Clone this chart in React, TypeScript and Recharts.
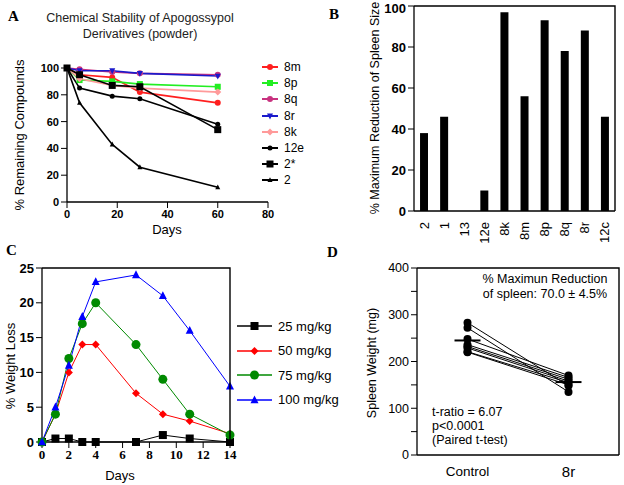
import React from 'react';
import { LineChart, Line, BarChart, Bar, ScatterChart, Scatter, XAxis, YAxis } from 'recharts';

const SANS = '"Liberation Sans", Arial, sans-serif';
const SERIF = '"Liberation Serif", "Times New Roman", serif';

// ---- A: chemical stability (powder) ----
const stabilityDays = [0, 5, 18, 29, 60];
const stab8m = [100, 95, 93, 82, 74];
const stab8p = [100, 91, 90, 88, 86];
const stab8q = [100, 99, 97, 96, 95];
const stab8r = [100, 98, 98, 96, 94];
const stab8k = [100, 92, 87, 85, 82];
const stab12e = [100, 85, 79, 77, 58];
const stab2star = [100, 95, 87, 86, 54];
const stab2 = [100, 74, 43, 26, 11];

// ---- B: spleen size reduction ----
const compounds = ['2', '1', '13', '12e', '8k', '8m', '8p', '8q', '8r', '12c'];
const spleenReduction = [38, 46, 0, 10, 97, 56, 93, 78, 88, 46];

// ---- C: weight loss ----
const lossDays = [0, 1, 2, 3, 4, 7, 9, 11, 14];
const loss25 = [0, 0.5, 0.5, 0, 0, 0, 1, 0.5, 0];
const loss50 = [0, 4, 10, 14, 14, 7, 4, 3, 1.2];
const loss75 = [0, 4, 12, 17, 20, 14, 9, 4, 1];
const loss100 = [0, 5, 11, 18, 23, 24, 21, 16, 8];

// ---- D: spleen weight, paired ----
const groups = ['Control', '8r'];
const controlWeights = [283, 272, 248, 236, 232, 229, 221, 220];
const treatedWeights = [148, 135, 170, 166, 162, 158, 155, 150];
const groupMeans = [245, 156];

type Shape = 'circle' | 'square' | 'triangle' | 'triangleDown' | 'diamond';

function Marker({ x, y, shape, color, size }: { x: number; y: number; shape: Shape; color: string; size: number }) {
  const h = size / 2;
  if (shape === 'circle') return <circle cx={x} cy={y} r={h} fill={color} />;
  if (shape === 'square') return <rect x={x - h} y={y - h} width={size} height={size} fill={color} />;
  if (shape === 'triangle')
    return <polygon points={`${x},${y - h * 1.15} ${x + h},${y + h * 0.8} ${x - h},${y + h * 0.8}`} fill={color} />;
  if (shape === 'triangleDown')
    return <polygon points={`${x},${y + h * 1.15} ${x + h},${y - h * 0.8} ${x - h},${y - h * 0.8}`} fill={color} />;
  return <polygon points={`${x},${y - h} ${x + h},${y} ${x},${y + h} ${x - h},${y}`} fill={color} />;
}

interface SeriesDef {
  name: string;
  values: number[];
  color: string;
  shape: Shape;
  size: number;
  width: number;
}

const stabilitySeries: SeriesDef[] = [
  { name: '8m', values: stab8m, color: '#ff1f1f', shape: 'circle', size: 6, width: 1.6 },
  { name: '8p', values: stab8p, color: '#22ee22', shape: 'square', size: 6, width: 1.6 },
  { name: '8q', values: stab8q, color: '#c8327f', shape: 'circle', size: 6, width: 1.6 },
  { name: '8r', values: stab8r, color: '#1a1acc', shape: 'triangleDown', size: 6, width: 1.6 },
  { name: '8k', values: stab8k, color: '#ff9a9a', shape: 'diamond', size: 7, width: 1.6 },
  { name: '12e', values: stab12e, color: '#000', shape: 'circle', size: 5, width: 1.6 },
  { name: '2*', values: stab2star, color: '#000', shape: 'square', size: 7, width: 1.6 },
  { name: '2', values: stab2, color: '#000', shape: 'triangle', size: 5, width: 1.6 },
];

const lossSeries: SeriesDef[] = [
  { name: '25 mg/kg', values: loss25, color: '#000', shape: 'square', size: 8, width: 1 },
  { name: '50 mg/kg', values: loss50, color: '#ff0000', shape: 'diamond', size: 8, width: 1 },
  { name: '75 mg/kg', values: loss75, color: '#008a00', shape: 'circle', size: 9, width: 1 },
  { name: '100 mg/kg', values: loss100, color: '#0000ff', shape: 'triangle', size: 8, width: 1 },
];

const stabilityRows = stabilityDays.map((d, i) => {
  const row: Record<string, number> = { day: d };
  stabilitySeries.forEach((s) => (row[s.name] = s.values[i]));
  return row;
});

const lossRows = lossDays.map((d, i) => {
  const row: Record<string, number> = { day: d };
  lossSeries.forEach((s) => (row[s.name] = s.values[i]));
  return row;
});

const barRows = compounds.map((c, i) => ({ name: c, value: spleenReduction[i] }));

function SideLegend({ items, rowHeight, lineLen, fontSize, left, top }: {
  items: SeriesDef[]; rowHeight: number; lineLen: number; fontSize: number; left: number; top: number;
}) {
  return (
    <div style={{ position: 'absolute', left, top, fontFamily: SANS, fontSize }}>
      {items.map((s) => (
        <div key={s.name} style={{ display: 'flex', alignItems: 'center', height: rowHeight }}>
          <svg width={lineLen} height={12} style={{ marginRight: 6 }}>
            <line x1={0} x2={lineLen} y1={6} y2={6} stroke={s.color} strokeWidth={s.width + 0.4} />
            <Marker x={lineLen / 2} y={6} shape={s.shape} color={s.color} size={s.size} />
          </svg>
          <span>{s.name}</span>
        </div>
      ))}
    </div>
  );
}

const vLabel = (text: string, cx: number, cy: number, fontSize: number) => () => (
  <text
    x={cx}
    y={cy}
    transform={`rotate(-90 ${cx} ${cy})`}
    textAnchor="middle"
    dominantBaseline="central"
    fontFamily={SANS}
    fontSize={fontSize}
    fill="#000"
  >
    {text}
  </text>
);

function RotatedTick({ x, y, payload }: any) {
  return (
    <text
      x={x}
      y={y + 3}
      transform={`rotate(-90 ${x} ${y + 3})`}
      textAnchor="end"
      dominantBaseline="central"
      fontFamily={SANS}
      fontSize={13}
      fill="#000"
    >
      {payload.value}
    </text>
  );
}

function GroupTick({ x, y, payload }: any) {
  const big = payload.value === 1;
  return (
    <text x={x} y={y + 8} textAnchor="middle" dominantBaseline="central" fontFamily={SANS} fontSize={big ? 15 : 13.5} fill="#000">
      {groups[payload.value]}
    </text>
  );
}

// plot boxes that carry a full frame (page px): left, top, right, bottom
const framedBoxes = [
  [414, 6, 615, 211],
  [42, 268, 230, 442],
  [417, 268, 619, 455],
];

function FrameOverlay() {
  return (
    <svg width={624} height={485} style={{ position: 'absolute', left: 0, top: 0, zIndex: 20, pointerEvents: 'none' }}>
      {framedBoxes.map(([l, t, r, b], i) => (
        <path key={i} d={`M${l},${t}H${r}V${b}`} fill="none" stroke="#000" strokeWidth={1.4} />
      ))}
    </svg>
  );
}

const axisLine = { stroke: '#000', strokeWidth: 1.3 };
const letter: React.CSSProperties = { position: 'absolute', fontFamily: SERIF, fontWeight: 'bold', fontSize: 15 };

export default function App() {
  return (
    <div style={{ position: 'absolute', left: 0, top: 0, width: 624, height: 485, background: '#fff' }}>
      {/* A */}
      <div style={{ ...letter, left: 8, top: 8 }}>A</div>
      <div style={{ position: 'absolute', left: 40, top: 10, width: 200, textAlign: 'center', fontFamily: SANS, fontSize: 12.5, lineHeight: '16px', color: '#222' }}>
        Chemical Stability of Apogossypol
        <br />
        Derivatives (powder)
      </div>
      <div style={{ position: 'absolute', left: 0, top: 0 }}>
        <LineChart width={300} height={240} data={stabilityRows} margin={{ top: 68, right: 32, left: 5, bottom: 18 }}>
          <XAxis
            dataKey="day"
            type="number"
            domain={[0, 80]}
            ticks={[0, 20, 40, 60, 80]}
            height={20}
            axisLine={axisLine}
            tickLine={{ stroke: '#000' }}
            tick={{ fontSize: 11, fontWeight: 'bold', fill: '#000', fontFamily: SANS }}
            label={{ content: () => <text x={167} y={229} textAnchor="middle" dominantBaseline="central" fontFamily={SANS} fontSize={13}>Days</text> }}
          />
          <YAxis
            type="number"
            domain={[0, 100]}
            ticks={[0, 20, 40, 60, 80, 100]}
            width={62}
            axisLine={axisLine}
            tickLine={{ stroke: '#000' }}
            tick={{ fontSize: 11, fontWeight: 'bold', fill: '#000', fontFamily: SANS }}
            label={{ content: vLabel('% Remaining Compounds', 19, 135, 13) }}
          />
          {stabilitySeries.map((s) => (
            <Line
              key={s.name}
              dataKey={s.name}
              stroke={s.color}
              strokeWidth={s.width}
              isAnimationActive={false}
              dot={(p: any) => <Marker key={`${s.name}-${p.index}`} x={p.cx} y={p.cy} shape={s.shape} color={s.color} size={s.size} />}
            />
          ))}
        </LineChart>
      </div>
      <SideLegend items={stabilitySeries} rowHeight={16.2} lineLen={16} fontSize={12} left={262} top={59} />

      {/* B */}
      <div style={{ ...letter, left: 329, top: 6 }}>B</div>
      <div style={{ position: 'absolute', left: 310, top: 0 }}>
        <BarChart width={314} height={252} data={barRows} margin={{ top: 6, right: 9, left: 55, bottom: 0 }} barCategoryGap="30%">
          <XAxis
            dataKey="name"
            height={41}
            axisLine={axisLine}
            tickLine={false}
            interval={0}
            tick={<RotatedTick />}
          />
          <YAxis
            type="number"
            domain={[0, 100]}
            ticks={[0, 20, 40, 60, 80, 100]}
            width={49}
            axisLine={axisLine}
            tickLine={{ stroke: '#000' }}
            tick={{ fontSize: 13, fontWeight: 'bold', fill: '#000', fontFamily: SANS }}
            label={{ content: vLabel('% Maximum Reduction of Spleen Size', 65, 108, 12.5) }}
          />
          <Bar dataKey="value" fill="#000" isAnimationActive={false} />
        </BarChart>
      </div>

      {/* C */}
      <div style={{ ...letter, left: 6, top: 242 }}>C</div>
      <div style={{ position: 'absolute', left: 0, top: 240 }}>
        <LineChart width={310} height={245} data={lossRows} margin={{ top: 28, right: 80, left: 0, bottom: 18 }}>
          <XAxis
            dataKey="day"
            type="number"
            domain={[0, 14]}
            ticks={[0, 2, 4, 6, 8, 10, 12, 14]}
            height={25}
            axisLine={axisLine}
            tickLine={{ stroke: '#000' }}
            tick={{ fontSize: 13, fontWeight: 'bold', fill: '#000', fontFamily: SERIF }}
            label={{ content: () => <text x={120} y={235} textAnchor="middle" dominantBaseline="central" fontFamily={SANS} fontSize={13}>Days</text> }}
          />
          <YAxis
            type="number"
            domain={[0, 25]}
            ticks={[0, 5, 10, 15, 20, 25]}
            width={42}
            axisLine={axisLine}
            tickLine={{ stroke: '#000' }}
            tick={{ fontSize: 13, fontWeight: 'bold', fill: '#000', fontFamily: SANS }}
            label={{ content: vLabel('% Weight Loss', 10, 126, 13) }}
          />
          {lossSeries.map((s) => (
            <Line
              key={s.name}
              dataKey={s.name}
              stroke={s.color}
              strokeWidth={s.width}
              isAnimationActive={false}
              dot={(p: any) => <Marker key={`${s.name}-${p.index}`} x={p.cx} y={p.cy} shape={s.shape} color={s.color} size={s.size} />}
            />
          ))}
        </LineChart>
      </div>
      <SideLegend items={lossSeries} rowHeight={24.5} lineLen={35} fontSize={13} left={237} top={314} />

      {/* D */}
      <div style={{ ...letter, left: 327, top: 244 }}>D</div>
      <div style={{ position: 'absolute', left: 310, top: 240 }}>
        <ScatterChart width={314} height={245} margin={{ top: 28, right: 5, left: 50, bottom: 10 }}>
          <XAxis
            dataKey="x"
            type="number"
            domain={[-0.5, 1.5]}
            ticks={[0, 1]}
            height={20}
            axisLine={axisLine}
            tickLine={false}
            tick={<GroupTick />}
          />
          <YAxis
            dataKey="y"
            type="number"
            domain={[0, 400]}
            ticks={[0, 50, 100, 150, 200, 250, 300, 350, 400]}
            tickFormatter={(v: number) => (v % 100 === 0 ? String(v) : '')}
            width={57}
            axisLine={axisLine}
            tickLine={{ stroke: '#000' }}
            tick={{ fontSize: 12.5, fill: '#000', fontFamily: SANS }}
            label={{ content: vLabel('Spleen Weight (mg)', 62, 123, 12.5) }}
          />
          {controlWeights.map((c, i) => (
            <Scatter
              key={i}
              data={[{ x: 0, y: c }, { x: 1, y: treatedWeights[i] }]}
              line={{ stroke: '#000', strokeWidth: 1 }}
              isAnimationActive={false}
              shape={(p: any) => <circle cx={p.cx} cy={p.cy} r={4} fill="#000" />}
            />
          ))}
          <Scatter
            data={groupMeans.map((m, i) => ({ x: i, y: m }))}
            isAnimationActive={false}
            shape={(p: any) => <line x1={p.cx - 13} x2={p.cx + 13} y1={p.cy} y2={p.cy} stroke="#000" strokeWidth={2} />}
          />
        </ScatterChart>
      </div>
      <div style={{ position: 'absolute', left: 470, top: 272, width: 150, textAlign: 'center', fontFamily: SANS, fontSize: 12.5, lineHeight: '15px' }}>
        % Maximun Reduction
        <br />
        of spleen: 70.0 ± 4.5%
      </div>
      <div style={{ position: 'absolute', left: 432, top: 405, fontFamily: SANS, fontSize: 12.5, lineHeight: '14px' }}>
        t-ratio = 6.07
        <br />
        p&lt;0.0001
        <br />
        (Paired t-test)
      </div>
      <FrameOverlay />
    </div>
  );
}
